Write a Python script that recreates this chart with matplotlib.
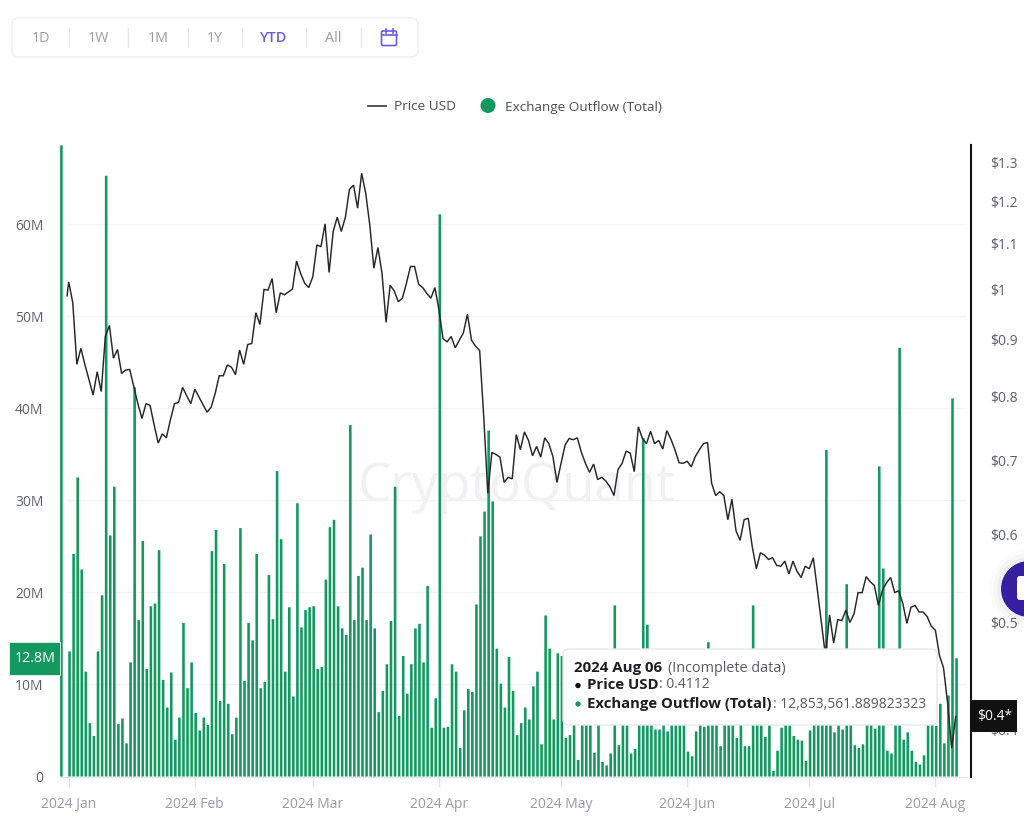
import numpy as np
import pandas as pd
import matplotlib
matplotlib.use("Agg")
import matplotlib.pyplot as plt
import matplotlib.dates as mdates
from matplotlib.patches import Rectangle, FancyBboxPatch, Circle
from matplotlib.ticker import FixedLocator, FixedFormatter, NullLocator

plt.rcParams['font.family'] = ['Open Sans', 'DejaVu Sans']

# Exchange outflow in millions. First bar is dated 2023-12-30, the rest are daily from Jan 1
first_outflow = 68.6
outflow = [
    13.6, 24.2, 32.5, 22.5, 11.4, 5.8, 4.4, 13.6, 19.7, 65.3,
    26.2, 31.5, 5.7, 6.3, 3.6, 12.4, 42.3, 17.0, 25.6, 11.7,
    18.5, 18.8, 24.6, 10.5, 7.5, 11.3, 4.0, 6.4, 16.7, 9.6,
    12.4, 6.9, 5.0, 6.4, 5.6, 24.5, 26.8, 8.2, 23.1, 7.9,
    4.6, 6.4, 27.0, 10.4, 16.7, 14.8, 24.2, 9.6, 10.3, 21.9,
    17.1, 33.2, 25.8, 11.4, 18.4, 8.7, 29.7, 16.2, 18.1, 18.4,
    18.5, 11.7, 11.9, 21.4, 27.1, 27.9, 18.5,
    16.1, 15.4, 38.2, 17.0, 21.8, 22.7, 17.0, 26.3, 16.1, 7.0,
    9.3, 12.2, 16.9, 31.5, 6.6, 13.1, 9.0, 12.2, 16.1, 16.6,
    12.4, 20.7, 5.3, 8.5, 61.1, 5.3, 5.4, 12.2, 11.4, 3.1,
    7.2, 9.5, 9.2, 18.7, 26.1, 28.8, 37.6, 29.9, 13.9, 10.1,
    7.5, 13.0, 9.3, 4.5, 5.8, 7.5, 6.2, 9.8, 11.4, 3.5,
    17.5, 13.9, 6.2, 13.4, 13.1, 4.2, 4.5, 7.0, 1.8, 8.0,
    9.0, 7.0, 2.6, 6.5, 1.6, 1.2, 2.5, 18.6, 3.4, 7.0,
    6.0, 2.5, 3.0, 6.0, 36.8, 16.5, 7.0, 5.1, 5.1, 6.0,
    4.9, 6.0, 6.5, 7.0, 5.8, 2.7, 2.2, 4.9, 5.6, 5.4,
    14.6, 6.5, 6.5, 3.3, 6.0, 6.0, 6.0, 4.2, 5.6, 3.3,
    3.3, 18.6, 5.6, 6.0, 4.3, 5.7, 0.6, 2.8, 5.3, 5.7,
    5.7, 4.4, 4.0, 3.9, 1.7, 5.0, 5.7, 6.0, 6.0, 35.5,
    5.7, 4.8, 5.7, 5.1, 20.9, 5.7, 3.4, 3.1, 3.5, 6.0,
    5.7, 5.2, 33.7, 22.6, 2.8, 2.5, 5.7, 46.6, 4.0, 4.8,
    2.8, 1.6, 1.3, 2.3, 5.7, 5.7, 5.5, 7.9, 3.6, 8.8,
    41.1, 12.85,
]

# Daily price from Jan 1, plus the stub point the line starts on
first_price = 0.986
price = [
    1.015, 0.972, 0.855, 0.884, 0.854, 0.828, 0.802, 0.842, 0.808, 0.906,
    0.927, 0.866, 0.882, 0.839, 0.845, 0.846, 0.816, 0.788, 0.764, 0.788,
    0.785, 0.754, 0.726, 0.740, 0.734, 0.762, 0.788, 0.790, 0.815, 0.801,
    0.788, 0.812, 0.799, 0.786, 0.774, 0.782, 0.805, 0.835, 0.835, 0.854,
    0.850, 0.837, 0.881, 0.855, 0.891, 0.893, 0.952, 0.929, 0.999, 0.998,
    1.022, 0.952, 0.992, 0.988, 0.994, 1.000, 1.060, 1.033, 1.012, 1.003,
    1.026, 1.096, 1.092, 1.145, 1.035, 1.127, 1.161,
    1.127, 1.161, 1.230, 1.241, 1.183, 1.272, 1.220, 1.142, 1.044, 1.090,
    1.033, 0.933, 1.008, 0.996, 0.974, 0.981, 1.012, 1.048, 1.048, 1.010,
    1.003, 0.991, 0.981, 1.003, 0.957, 0.902, 0.896, 0.906, 0.885, 0.899,
    0.913, 0.949, 0.899, 0.888, 0.880, 0.767,
    0.654, 0.712, 0.709, 0.705, 0.669, 0.676, 0.674, 0.739, 0.716, 0.743,
    0.730, 0.707, 0.721, 0.705, 0.734, 0.725, 0.706, 0.669, 0.696, 0.723,
    0.733, 0.731, 0.734, 0.712, 0.696, 0.683, 0.695, 0.673, 0.676, 0.671,
    0.663, 0.651, 0.687, 0.696, 0.714, 0.711, 0.684, 0.751, 0.733, 0.725,
    0.744, 0.725, 0.730, 0.717, 0.745, 0.732, 0.716, 0.697, 0.696, 0.699,
    0.691, 0.706,
    0.716, 0.725, 0.727, 0.668, 0.651, 0.656, 0.651, 0.619, 0.646, 0.605,
    0.593, 0.619, 0.621, 0.585, 0.559, 0.578, 0.575, 0.570, 0.572, 0.563,
    0.562, 0.568, 0.553, 0.568, 0.556, 0.549, 0.562, 0.559, 0.572, 0.535,
    0.499, 0.466,
    0.508, 0.479, 0.503, 0.502, 0.513, 0.500, 0.509, 0.532, 0.532, 0.550,
    0.544, 0.540, 0.518, 0.535, 0.543, 0.549, 0.532, 0.534, 0.520, 0.499,
    0.516, 0.518, 0.511, 0.511, 0.506, 0.496, 0.492, 0.467, 0.455, 0.423,
    0.385, 0.4112,
]

left_ticks = [0, 10, 20, 30, 40, 50, 60]
left_labels = ['0', '10M', '20M', '30M', '40M', '50M', '60M']
price_ticks = [0.4, 0.5, 0.6, 0.7, 0.8, 0.9, 1, 1.1, 1.2, 1.3]
price_labels = ['$0.4', '$0.5', '$0.6', '$0.7', '$0.8', '$0.9', '$1', '$1.1', '$1.2', '$1.3']
buttons = ['1D', '1W', '1M', '1Y', 'YTD', 'All']

GREEN = '#13995f'
TICK_GREY = '#5b6070'
DATE_GREY = '#9a9aa8'
PURPLE = '#6a5ae8'

days = pd.date_range('2024-01-01', periods=len(outflow), freq='D')
bar_dates = [pd.Timestamp('2023-12-30')] + list(days)
bar_values = [first_outflow] + outflow
line_dates = [pd.Timestamp('2023-12-31 14:24')] + list(days)
line_values = [first_price] + price

W, H = 1024, 831
fig = plt.figure(figsize=(W / 100, H / 100), dpi=100, facecolor='white')
ax = fig.add_axes([59.5 / W, (H - 776.5) / H, (967 - 59.5) / W, (776.5 - 145) / H])

# bars sit slightly right of their date tick in the original
bar_shift = pd.Timedelta(hours=5)
bars = ax.bar([d + bar_shift for d in bar_dates], bar_values, width=0.64, color=GREEN, zorder=3)
for b in bars:
    b.set_snap(False)
ax.set_xlim(pd.Timestamp('2023-12-29 17:45'), pd.Timestamp('2024-08-08 18:30'))
ax.set_ylim(0, 68.64)

# gridlines start a little right of the axes edge
grid_start = mdates.date2num(pd.Timestamp('2023-12-31 14:00'))
grid_end = ax.get_xlim()[1]
ax.hlines(left_ticks[1:], grid_start, grid_end, color='#f3f3f5', lw=1, zorder=1)

ax.text(0.504, 0.458, 'CryptoQuant', transform=ax.transAxes, ha='center', va='center',
        fontsize=38, color='#f1f1f4', zorder=2)

ax.set_yticks(left_ticks)
ax.set_yticklabels(left_labels)
ax.tick_params(axis='y', length=0, pad=11.5, labelsize=10, labelcolor=TICK_GREY)
ax.set_xticks(pd.date_range('2024-01-01', '2024-08-01', freq='MS'))
ax.xaxis.set_major_formatter(mdates.DateFormatter('%Y %b'))
ax.tick_params(axis='x', length=7.5, width=1, color='#e3e3ec', pad=7.5, labelsize=10, labelcolor=DATE_GREY)
for side in ['top', 'left', 'right']:
    ax.spines[side].set_visible(False)
ax.spines['bottom'].set_color('#e3e3ec')

ax2 = ax.twinx()
ax2.plot(line_dates, line_values, color='#262626', lw=1.05, zorder=4, solid_joinstyle='miter')
ax2.set_yscale('log')
ax2.set_ylim(0.363, 1.349)
ax2.yaxis.set_major_locator(FixedLocator(price_ticks))
ax2.yaxis.set_major_formatter(FixedFormatter(price_labels))
ax2.yaxis.set_minor_locator(NullLocator())
ax2.tick_params(axis='y', which='major', length=0, pad=13.2, labelsize=10, labelcolor=TICK_GREY)
for side in ['top', 'left', 'bottom']:
    ax2.spines[side].set_visible(False)
ax2.spines['right'].set_position(('outward', 3.2))
ax2.spines['right'].set_linewidth(1.5)
ax2.spines['right'].set_color('#111111')

# overlay in pixel coordinates for the page furniture around the chart
ui = fig.add_axes([0, 0, 1, 1], zorder=10)
ui.set_xlim(0, W)
ui.set_ylim(H, 0)
ui.axis('off')
ui.patch.set_alpha(0)


def rounded(x0, y0, x1, y1, radius, face, edge, lw=1, z=1):
    ui.add_patch(FancyBboxPatch((x0 + radius, y0 + radius), x1 - x0 - 2 * radius, y1 - y0 - 2 * radius,
                                boxstyle=f'round,pad={radius},rounding_size={radius}',
                                fc=face, ec=edge, lw=lw, zorder=z))


# range buttons
rounded(12, 18, 418, 57, 7, 'white', '#eeeef2')
for name, cx in zip(buttons, [41, 98.5, 158, 215, 273, 333]):
    active = name == 'YTD'
    ui.text(cx, 38, name, ha='center', va='center', fontsize=10.4,
            color=PURPLE if active else '#9a9aa5', fontweight='semibold' if active else 'normal')
for sx in [68.5, 128, 187.5, 241.5, 305.5, 360.5]:
    ui.plot([sx, sx], [28, 47], color='#e6e6ec', lw=1)
ui.add_patch(FancyBboxPatch((381.5, 31), 15, 14.5, boxstyle='round,pad=0,rounding_size=1.5',
                            fc='white', ec=PURPLE, lw=1.2, zorder=2))
ui.plot([381.5, 396.5], [35, 35], color=PURPLE, lw=1.2, zorder=3)
ui.plot([385.5, 385.5], [29, 32.5], color=PURPLE, lw=1.2, zorder=3)
ui.plot([392.5, 392.5], [29, 32.5], color=PURPLE, lw=1.2, zorder=3)

# legend
ui.plot([368, 386], [106, 106], color='#333333', lw=1.2)
ui.text(394, 107, 'Price USD', va='center', fontsize=9.7, color='#484b55')
ui.add_patch(Circle((488, 105.5), 7.5, fc=GREEN, ec='none'))
ui.text(505, 107, 'Exchange Outflow (Total)', va='center', fontsize=9.7, color='#484b55')

# axis value tags for the hovered day
fig.canvas.draw()
y_flow = H - ax.transData.transform((0, outflow[-1]))[1]
y_price = H - ax2.transData.transform((0, price[-1]))[1]
ui.add_patch(Rectangle((9, y_flow - 16.5), 51, 33, fc=GREEN, ec='#e8f3ee', lw=0.6, zorder=5))
ui.text(35.5, y_flow, '12.8M', ha='center', va='center', fontsize=10.3, color='white', zorder=6)
ui.add_patch(Rectangle((972, y_price - 16.5), 45, 32, fc='#111111', ec='none', zorder=5))
ui.text(995, y_price, '$0.4*', ha='center', va='center', fontsize=10, color='white', zorder=6)

# tooltip
rounded(563, 649, 937, 725, 6, 'white', '#e6e6f0', z=7)
ui.text(574, 668, '2024 Aug 06', va='center', fontsize=10.8, fontweight='bold', color='#1d1d26', zorder=8)
ui.text(668.5, 668, '(Incomplete data)', va='center', fontsize=10.4, color='#555a66', zorder=8)
ui.add_patch(Circle((578, 685.5), 2.7, fc='#111111', ec='none', zorder=8))
ui.text(587, 685, 'Price USD', va='center', fontsize=10.7, fontweight='bold', color='#1d1d26', zorder=8)
ui.text(659, 685, ': 0.4112', va='center', fontsize=10, color='#555a66', zorder=8)
ui.add_patch(Circle((578, 704), 2.7, fc=GREEN, ec='none', zorder=8))
ui.text(587, 704, 'Exchange Outflow (Total)', va='center', fontsize=10.7, fontweight='bold', color='#1d1d26', zorder=8)
ui.text(773, 704, ': 12,853,561.889823323', va='center', fontsize=10, color='#555a66', zorder=8)

# chat bubble cut off by the page edge
for grow, alpha in [(12, 0.015), (8, 0.02), (4, 0.03)]:
    ui.add_patch(Circle((1029, 589), 28 + grow, fc='black', ec='none', alpha=alpha, zorder=4))
ui.add_patch(Circle((1029, 589), 28, fc='#361fa0', ec='none', zorder=5))
ui.add_patch(FancyBboxPatch((1017, 576), 10, 24, boxstyle='round,pad=0,rounding_size=3',
                            fc='white', ec='none', zorder=6))

fig.savefig('out.png', dpi=100)
plt.close(fig)
